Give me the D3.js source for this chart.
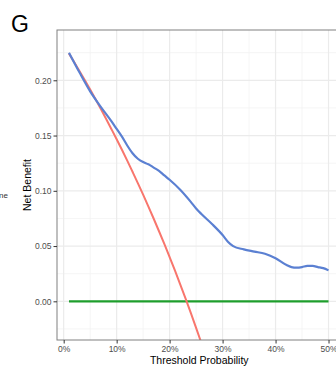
<!DOCTYPE html>
<html>
<head>
<meta charset="utf-8">
<script src="https://cdn.jsdelivr.net/npm/d3@7/dist/d3.min.js"></script>
<style>
  html, body { margin: 0; padding: 0; background: #fff; }
  svg { display: block; font-family: "Liberation Sans", Arial, sans-serif; }
</style>
</head>
<body>
<svg id="chart" width="336" height="369"></svg>
<script>
// Decision curve: net benefit of the model vs. treat-all vs. treat-none
const modelThreshold = [0.01, 0.03, 0.05, 0.07, 0.09, 0.10, 0.11, 0.12, 0.13, 0.14, 0.15, 0.16, 0.17, 0.18, 0.19, 0.20, 0.22, 0.24, 0.25, 0.26, 0.28, 0.30, 0.31, 0.32, 0.34, 0.36, 0.38, 0.40, 0.42, 0.43, 0.44, 0.45, 0.46, 0.47, 0.48, 0.49, 0.50];
const modelBenefit  = [0.225, 0.207, 0.190, 0.176, 0.163, 0.156, 0.149, 0.141, 0.134, 0.129, 0.126, 0.124, 0.121, 0.118, 0.114, 0.110, 0.101, 0.090, 0.084, 0.079, 0.070, 0.060, 0.054, 0.050, 0.047, 0.045, 0.043, 0.039, 0.033, 0.031, 0.0305, 0.031, 0.032, 0.032, 0.031, 0.030, 0.028];

const allThreshold = [0.01, 0.02, 0.03, 0.04, 0.05, 0.06, 0.07, 0.08, 0.09, 0.10, 0.11, 0.12, 0.13, 0.14, 0.15, 0.16, 0.17, 0.18, 0.19, 0.20, 0.21, 0.22, 0.23, 0.24, 0.25, 0.26, 0.27];
const allBenefit  = [0.2242, 0.2163, 0.2082, 0.2000, 0.1916, 0.1830, 0.1742, 0.1652, 0.1560, 0.1467, 0.1371, 0.1273, 0.1172, 0.1070, 0.0965, 0.0857, 0.0747, 0.0634, 0.0519, 0.0400, 0.0279, 0.0154, 0.0026, -0.0105, -0.0240, -0.0378, -0.0521];

const noneThreshold = [0.01, 0.50];
const noneBenefit   = [0, 0];

const xTicks = [0, 0.1, 0.2, 0.3, 0.4, 0.5];
const xMinor = [0.05, 0.15, 0.25, 0.35, 0.45];
const yTicks = [0, 0.05, 0.10, 0.15, 0.20];
const yMinor = [-0.025, 0.025, 0.075, 0.125, 0.175, 0.225];

const svg = d3.select("#chart");
const pLeft = 57, pTop = 30, pRight = 341.5, pBottom = 340;

const x = d3.scaleLinear().domain([-0.0126, 0.5245]).range([pLeft, pRight]);
const y = d3.scaleLinear().domain([-0.0350, 0.2455]).range([pBottom, pTop]);

// panel title
svg.append("text").attr("x", 11).attr("y", 32)
  .attr("font-size", 23).attr("fill", "#000").text("G");

// fragment of the neighbouring legend label
svg.append("text").attr("x", 8).attr("y", 198).attr("text-anchor", "end")
  .attr("font-size", 8).attr("fill", "#333").text("None");

const panel = svg.append("g");
panel.append("defs").append("clipPath").attr("id", "clip")
  .append("rect").attr("x", pLeft).attr("y", pTop)
  .attr("width", pRight - pLeft).attr("height", pBottom - pTop);

// grid
const grid = panel.append("g");
grid.selectAll(".xmin").data(xMinor).join("line")
  .attr("x1", d => x(d)).attr("x2", d => x(d)).attr("y1", pTop).attr("y2", pBottom)
  .attr("stroke", "#F2F2F2").attr("stroke-width", 0.8);
grid.selectAll(".ymin").data(yMinor).join("line")
  .attr("y1", d => y(d)).attr("y2", d => y(d)).attr("x1", pLeft).attr("x2", pRight)
  .attr("stroke", "#F2F2F2").attr("stroke-width", 0.8);
grid.selectAll(".xmaj").data(xTicks).join("line")
  .attr("x1", d => x(d)).attr("x2", d => x(d)).attr("y1", pTop).attr("y2", pBottom)
  .attr("stroke", "#EBEBEB").attr("stroke-width", 1.2);
grid.selectAll(".ymaj").data(yTicks).join("line")
  .attr("y1", d => y(d)).attr("y2", d => y(d)).attr("x1", pLeft).attr("x2", pRight)
  .attr("stroke", "#EBEBEB").attr("stroke-width", 1.2);

// curves
const lines = panel.append("g").attr("clip-path", "url(#clip)");
const line = d3.line().x(d => x(d[0])).y(d => y(d[1])).curve(d3.curveMonotoneX);

lines.append("path").datum(d3.zip(noneThreshold, noneBenefit))
  .attr("d", line).attr("fill", "none").attr("stroke", "#1E9E2C").attr("stroke-width", 2.2);
lines.append("path").datum(d3.zip(allThreshold, allBenefit))
  .attr("d", line).attr("fill", "none").attr("stroke", "#F8766D").attr("stroke-width", 2);
lines.append("path").datum(d3.zip(modelThreshold, modelBenefit))
  .attr("d", line).attr("fill", "none").attr("stroke", "#5B80D2").attr("stroke-width", 2.2);

// panel border
panel.append("rect").attr("x", pLeft).attr("y", pTop)
  .attr("width", pRight - pLeft).attr("height", pBottom - pTop)
  .attr("fill", "none").attr("stroke", "#808080").attr("stroke-width", 1);

// axes
const xAxis = d3.axisBottom(x).tickValues(xTicks).tickFormat(d3.format(".0%")).tickSize(3.5).tickPadding(2);
const yAxis = d3.axisLeft(y).tickValues(yTicks).tickFormat(d3.format(".2f")).tickSize(3.5).tickPadding(2);

const gx = svg.append("g").attr("transform", `translate(0,${pBottom})`).call(xAxis);
const gy = svg.append("g").attr("transform", `translate(${pLeft},0)`).call(yAxis);
[gx, gy].forEach(g => {
  g.select(".domain").remove();
  g.selectAll(".tick line").attr("stroke", "#333").attr("stroke-width", 1);
  g.selectAll(".tick text").attr("fill", "#4D4D4D").attr("font-size", 8.5)
    .attr("font-family", "Liberation Sans, Arial, sans-serif");
});

// axis titles
svg.append("text").attr("x", (pLeft + pRight) / 2).attr("y", 364)
  .attr("text-anchor", "middle").attr("font-size", 10.5).attr("fill", "#000")
  .text("Threshold Probability");
svg.append("text").attr("transform", `translate(31,${(pTop + pBottom) / 2}) rotate(-90)`)
  .attr("text-anchor", "middle").attr("font-size", 10.5).attr("fill", "#000")
  .text("Net Benefit");
</script>
</body>
</html>
